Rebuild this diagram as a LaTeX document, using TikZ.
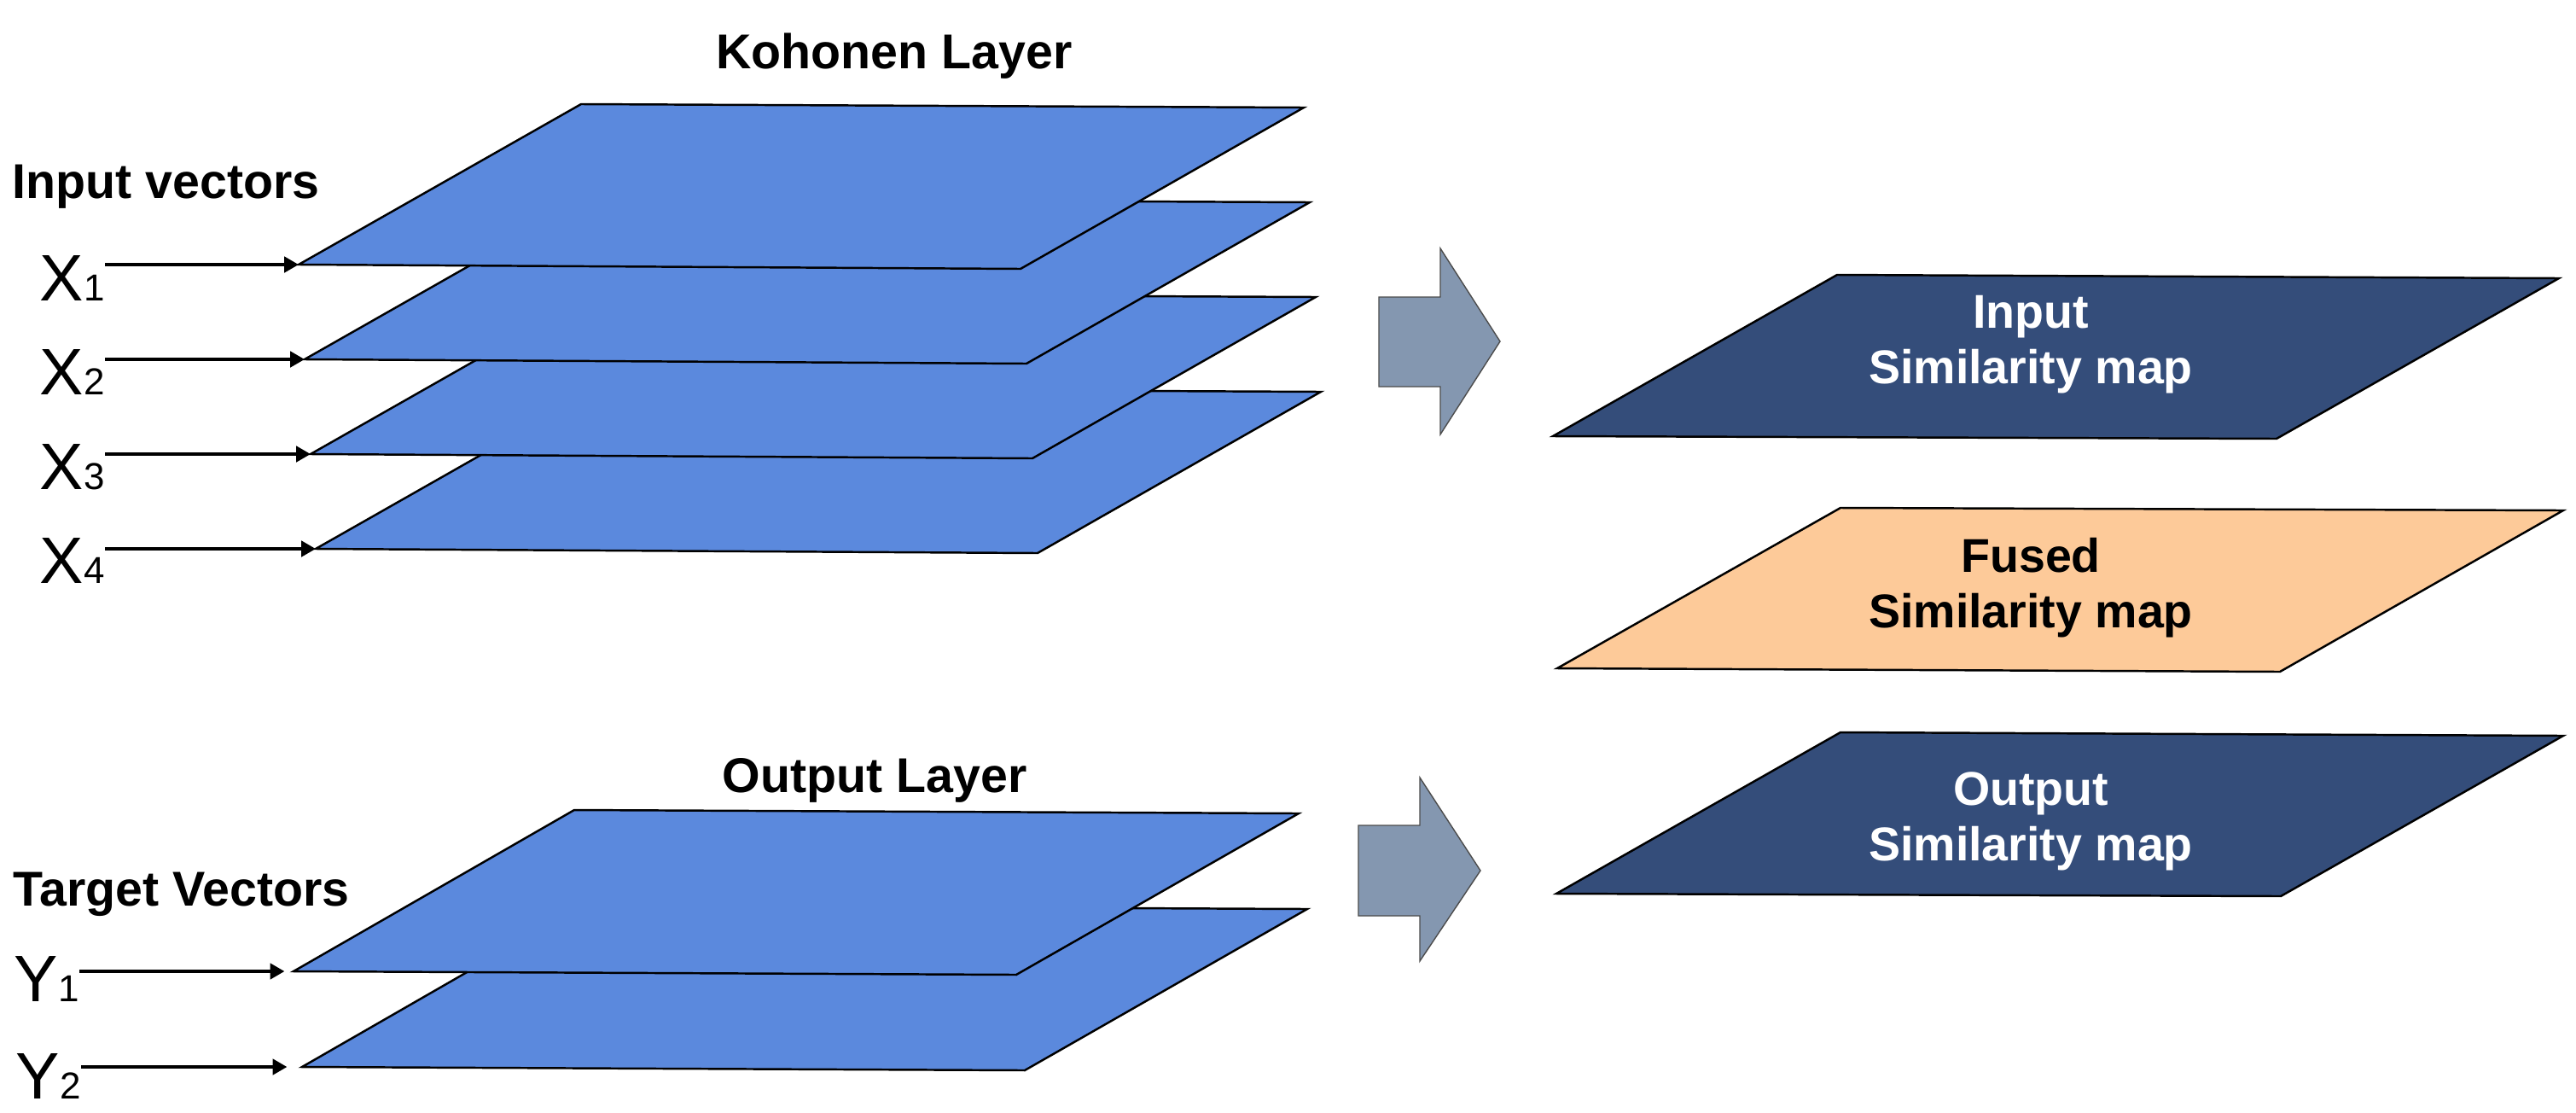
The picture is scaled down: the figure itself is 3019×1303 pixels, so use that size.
\documentclass[tikz,border=0pt]{standalone}
\usepackage{fontspec}
\setmainfont{Liberation Sans}
\usetikzlibrary{arrows.meta}

\definecolor{layerblue}{RGB}{91,137,221}
\definecolor{mapnavy}{RGB}{52,77,122}
\definecolor{fusedpeach}{RGB}{253,202,153}
\definecolor{arrowgray}{RGB}{132,151,176}

\tikzset{
  layer/.style={draw=black, line width=0.7pt, fill=layerblue},
  simmap/.style={draw=black, line width=0.7pt, fill=mapnavy},
  bigarrow/.style={draw=black!70, line width=0.4pt, fill=arrowgray},
  feed/.style={line width=1.1pt, -{Triangle[length=4.8pt,width=5.2pt]}},
  title/.style={inner sep=0pt, font=\bfseries\fontsize{16.3}{19.5}\selectfont},
  maplabel/.style={inner sep=0pt, align=center, font=\bfseries\fontsize{15.8}{18.5}\selectfont},
  vec/.style={inner sep=0pt, font=\fontsize{21.9}{26}\selectfont}
}
\newcommand{\vsub}[1]{{\fontsize{12.5}{15}\selectfont #1}}

\begin{document}
\begin{tikzpicture}[x=0.01cm, y=-0.01cm]
\useasboundingbox (0,0) rectangle (3019,1303);
% Kohonen layer, bottom plane first
\foreach \k/\dx/\dy in {4/20/333, 3/14/222, 2/7/111, 1/0/0}{
  \draw[layer] (350+\dx,310+\dy) coordinate (k\k) -- ++(846,5) -- ++(332,-189) -- ++(-847,-4) -- cycle;
  \node[vec, anchor=base west] (x\k) at (46,352+110.5*\k-110.5) {X\vsub{\k}};
  \draw[feed] (x\k.east |- k\k) -- (k\k);
}
\node[title, anchor=base] (kohonen) at (1048,80) {Kohonen Layer};
\node[title, anchor=base west] (invec) at (14,232) {Input vectors};
% output layer
\foreach \k/\dx/\dy in {2/10/112, 1/0/0}{
  \draw[layer] (344+\dx,1138+\dy) coordinate (o\k) -- ++(847,4) -- ++(331,-189) -- ++(-849,-4) -- cycle;
}
\node[vec, anchor=base west] (y1) at (16,1173) {Y\vsub{1}};
\node[vec, anchor=base west] (y2) at (18,1287) {Y\vsub{2}};
\draw[feed, shorten >=3pt] (y1.east |- o1) -- (o1);
\draw[feed, shorten >=5pt] (y2.east |- o2) -- (o2);
\node[title, anchor=base] (outlayer) at (1025,928) {Output Layer};
\node[title, anchor=base west] (tgtvec) at (15,1061) {Target Vectors};
% block arrows
\draw[bigarrow] (1616,348) -- (1688,348) -- (1688,291) -- (1758,400) -- (1688,509) -- (1688,453) -- (1616,453) -- cycle;
\draw[bigarrow] (1592,967) -- (1664,967) -- (1664,911) -- (1735,1020) -- (1664,1126) -- (1664,1073) -- (1592,1073) -- cycle;
% similarity maps
\draw[simmap] (1820,511) coordinate (m1) -- ++(848,3) -- ++(331,-188) -- ++(-846,-4) -- cycle;
\draw[simmap, fill=fusedpeach] (1825,783) coordinate (m2) -- ++(847,4) -- ++(332,-189) -- ++(-847,-3) -- cycle;
\draw[simmap] (1824,1047) coordinate (m3) -- ++(849,3) -- ++(331,-188) -- ++(-847,-4) -- cycle;
\node[maplabel, text=white] (inmap) at (2380,404) {Input\\Similarity map};
\node[maplabel] (fusedmap) at (2380,689) {Fused\\Similarity map};
\node[maplabel, text=white] (outmap) at (2380,962) {Output\\Similarity map};
\end{tikzpicture}
\end{document}
